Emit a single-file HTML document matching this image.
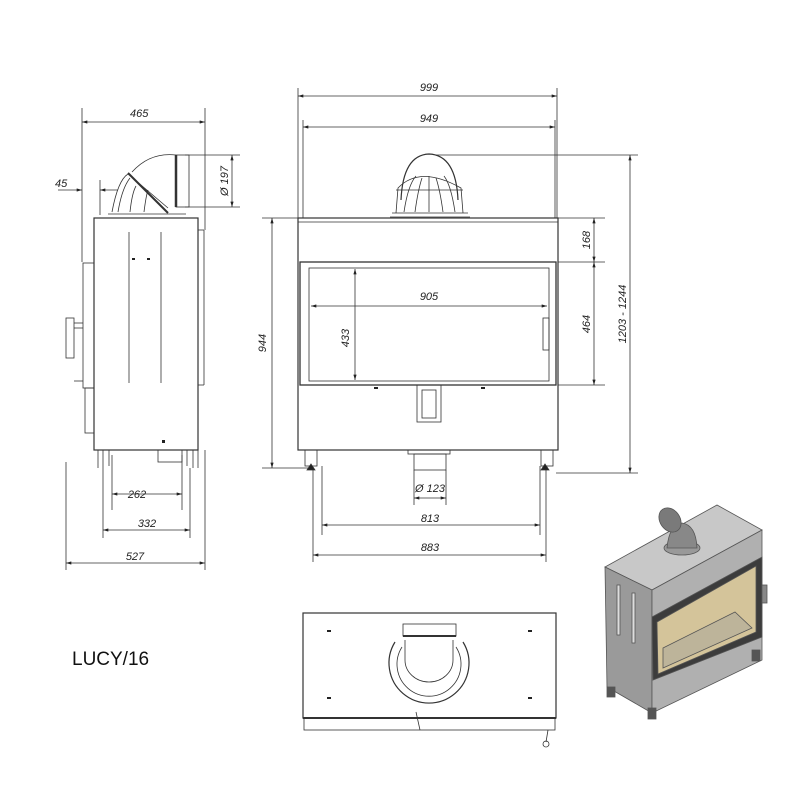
<!DOCTYPE html>
<html><head><meta charset="utf-8"><style>
html,body{margin:0;padding:0;background:#fff}
svg{display:block}
text{font-family:"Liberation Sans",sans-serif;font-size:11px;font-style:italic;fill:#222}
</style></head><body>
<svg width="800" height="800" viewBox="0 0 800 800" xmlns="http://www.w3.org/2000/svg">
<defs>
<marker id="a" viewBox="0 0 10 6" refX="10" refY="3" markerWidth="7" markerHeight="4" orient="auto-start-reverse"><path d="M0,0L10,3L0,6z" fill="#222"/></marker>
</defs>
<g stroke="#333" stroke-width="0.8" fill="none">
<!-- ===== SIDE VIEW ===== -->
<line x1="82" y1="108" x2="82" y2="262"/><line x1="205" y1="108" x2="205" y2="230"/>
<line x1="82" y1="122" x2="205" y2="122" marker-start="url(#a)" marker-end="url(#a)"/>
<line x1="58" y1="190" x2="82" y2="190" marker-end="url(#a)"/><line x1="100" y1="190" x2="118" y2="190" marker-start="url(#a)"/>
<line x1="100" y1="180" x2="100" y2="215"/>
<line x1="185" y1="155" x2="240" y2="155"/><line x1="185" y1="207" x2="240" y2="207"/>
<line x1="232" y1="155" x2="232" y2="207" marker-start="url(#a)" marker-end="url(#a)"/>
<rect x="94" y="218" width="104" height="232" stroke-width="1.2"/>
<line x1="198" y1="230" x2="204" y2="230"/><line x1="204" y1="230" x2="204" y2="385"/><line x1="198" y1="385" x2="204" y2="385"/>
<line x1="198" y1="392" x2="198" y2="445"/>
<line x1="129" y1="232" x2="129" y2="383"/><line x1="161" y1="232" x2="161" y2="383"/>
<rect x="83" y="263" width="11" height="125"/>
<rect x="85" y="388" width="9" height="45"/>
<rect x="66" y="318" width="8" height="40"/><line x1="74" y1="323" x2="83" y2="323"/><line x1="74" y1="328" x2="83" y2="328"/>
<line x1="74" y1="381" x2="83" y2="381"/>
<!-- dome side -->
<path d="M108,214 L186,214"/><path d="M112,212 Q118,180 128,174 L168,208"/>
<path d="M118,212 Q122,188 130,178"/><path d="M130,212 Q132,193 136,186"/><path d="M144,212 Q146,196 148,190"/>
<path d="M128,173 L168,213" stroke-width="2"/>
<path d="M132,172 Q150,152 176,155"/>
<rect x="176" y="155" width="13" height="52"/><line x1="176" y1="155" x2="176" y2="207" stroke-width="2.5"/>
<!-- feet side -->
<line x1="98" y1="450" x2="98" y2="468"/><line x1="103" y1="450" x2="103" y2="468"/><line x1="109" y1="450" x2="109" y2="466"/>
<line x1="187" y1="450" x2="187" y2="466"/><line x1="193" y1="450" x2="193" y2="468"/><line x1="198" y1="450" x2="198" y2="468"/>
<rect x="158" y="450" width="24" height="12"/>
<line x1="66" y1="462" x2="66" y2="570"/><line x1="205" y1="450" x2="205" y2="570"/>
<line x1="103" y1="468" x2="103" y2="538"/><line x1="190" y1="468" x2="190" y2="538"/>
<line x1="112" y1="455" x2="112" y2="510"/><line x1="182" y1="455" x2="182" y2="510"/>
<line x1="112" y1="494" x2="182" y2="494" marker-start="url(#a)" marker-end="url(#a)"/>
<line x1="103" y1="530" x2="190" y2="530" marker-start="url(#a)" marker-end="url(#a)"/>
<line x1="66" y1="563" x2="205" y2="563" marker-start="url(#a)" marker-end="url(#a)"/>
<!-- ===== FRONT VIEW ===== -->
<line x1="298" y1="88" x2="298" y2="218"/><line x1="557" y1="88" x2="557" y2="218"/>
<line x1="303" y1="120" x2="303" y2="218"/><line x1="555" y1="120" x2="555" y2="218"/>
<line x1="298" y1="96" x2="557" y2="96" marker-start="url(#a)" marker-end="url(#a)"/>
<line x1="303" y1="127" x2="555" y2="127" marker-start="url(#a)" marker-end="url(#a)"/>
<rect x="298" y="218" width="260" height="232" stroke-width="1.2"/>
<line x1="298" y1="222" x2="558" y2="222"/>
<rect x="300" y="262" width="256" height="123" stroke-width="1.3"/>
<rect x="309" y="268" width="240" height="113"/>
<rect x="543" y="318" width="6" height="32"/>
<rect x="417" y="385" width="24" height="37"/><rect x="422" y="390" width="14" height="28"/>
<line x1="262" y1="218" x2="298" y2="218"/><line x1="262" y1="468" x2="310" y2="468"/>
<line x1="272" y1="218" x2="272" y2="468" marker-start="url(#a)" marker-end="url(#a)"/>
<line x1="558" y1="218" x2="605" y2="218"/><line x1="558" y1="262" x2="605" y2="262"/><line x1="558" y1="385" x2="605" y2="385"/>
<line x1="594" y1="218" x2="594" y2="262" marker-start="url(#a)" marker-end="url(#a)"/>
<line x1="594" y1="262" x2="594" y2="385" marker-start="url(#a)" marker-end="url(#a)"/>
<line x1="435" y1="155" x2="638" y2="155"/><line x1="556" y1="473" x2="638" y2="473"/>
<line x1="630" y1="155" x2="630" y2="473" marker-start="url(#a)" marker-end="url(#a)"/>
<line x1="311" y1="306" x2="547" y2="306" marker-start="url(#a)" marker-end="url(#a)"/>
<line x1="355" y1="269" x2="355" y2="380" marker-start="url(#a)" marker-end="url(#a)"/>
<!-- dome front -->
<path d="M392,213 L468,213 M390,217 L470,217"/>
<path d="M401,200 Q403,155 429,154 Q456,155 458,200" stroke-width="1.2"/>
<path d="M396,213 L398,188 Q420,165 461,188 L463,213"/>
<path d="M404,212 Q408,185 416,176"/><path d="M415,212 Q418,190 422,178"/><path d="M429,212 L429,176"/><path d="M443,212 Q440,190 436,178"/><path d="M455,212 Q451,185 444,176"/>
<line x1="396" y1="190" x2="463" y2="190"/>
<!-- feet front -->
<rect x="305" y="450" width="12" height="16"/><rect x="541" y="450" width="12" height="16"/>
<path d="M307,470 L315,470 L311,464z M541,470 L549,470 L545,464z" fill="#222"/>
<rect x="408" y="450" width="42" height="4"/><rect x="414" y="454" width="32" height="16"/>
<line x1="414" y1="470" x2="414" y2="505"/><line x1="446" y1="470" x2="446" y2="505"/>
<line x1="414" y1="498" x2="446" y2="498" marker-start="url(#a)" marker-end="url(#a)"/>
<line x1="322" y1="466" x2="322" y2="535"/><line x1="540" y1="466" x2="540" y2="535"/>
<line x1="313" y1="470" x2="313" y2="562"/><line x1="546" y1="470" x2="546" y2="562"/>
<line x1="322" y1="525" x2="540" y2="525" marker-start="url(#a)" marker-end="url(#a)"/>
<line x1="313" y1="555" x2="546" y2="555" marker-start="url(#a)" marker-end="url(#a)"/>
<!-- ===== TOP VIEW ===== -->
<rect x="303" y="613" width="253" height="105" stroke-width="1.2"/>
<rect x="304" y="718" width="251" height="12"/>
<line x1="303" y1="718" x2="556" y2="718" stroke-width="2"/>
<rect x="403" y="624" width="53" height="12"/><line x1="403" y1="636" x2="456" y2="636" stroke-width="2"/>
<path d="M395,642 A40,40 0 1,0 463,642" stroke-width="1.2"/>
<path d="M402,647 A32,32 0 1,0 456,647"/>
<path d="M405,640 L405,660 A24,22 0 0,0 453,660 L453,640"/>
<path d="M416,712 L420,730 M548,730 L546,742"/>
<circle cx="546" cy="744" r="3"/>
</g>
<g fill="#222">
<rect x="132" y="258" width="3" height="2"/><rect x="147" y="258" width="3" height="2"/><rect x="162" y="440" width="3" height="3"/>
<rect x="374" y="387" width="4" height="2"/><rect x="481" y="387" width="4" height="2"/>
<rect x="327" y="630" width="4" height="2"/><rect x="327" y="697" width="4" height="2"/><rect x="528" y="630" width="4" height="2"/><rect x="528" y="697" width="4" height="2"/>
</g>
<!-- labels -->
<text x="130" y="117">465</text>
<text x="55" y="187">45</text>
<text x="228" y="181" transform="rotate(-90 228 181)" text-anchor="middle">Ø 197</text>
<text x="137" y="498" text-anchor="middle">262</text>
<text x="147" y="527" text-anchor="middle">332</text>
<text x="135" y="560" text-anchor="middle">527</text>
<text x="429" y="91" text-anchor="middle">999</text>
<text x="429" y="122" text-anchor="middle">949</text>
<text x="429" y="300" text-anchor="middle">905</text>
<text x="349" y="338" transform="rotate(-90 349 338)" text-anchor="middle">433</text>
<text x="266" y="343" transform="rotate(-90 266 343)" text-anchor="middle">944</text>
<text x="590" y="240" transform="rotate(-90 590 240)" text-anchor="middle">168</text>
<text x="590" y="324" transform="rotate(-90 590 324)" text-anchor="middle">464</text>
<text x="626" y="314" transform="rotate(-90 626 314)" text-anchor="middle">1203 - 1244</text>
<text x="430" y="492" text-anchor="middle">Ø 123</text>
<text x="430" y="522" text-anchor="middle">813</text>
<text x="430" y="551" text-anchor="middle">883</text>
<text x="72" y="665" style="font-style:normal;font-size:19px;fill:#111">LUCY/16</text>
<!-- ===== 3D RENDER ===== -->
<g stroke="#555" stroke-width="0.8">
<polygon points="605,567 652,590 762,530 717,505" fill="#c8c8c8"/>
<polygon points="605,567 652,590 652,713 607,687" fill="#9a9a9a"/>
<polygon points="652,590 762,530 762,660 652,713" fill="#b0b0b0"/>
<polygon points="652,617 762,557 762,637 653,680" fill="#3c3c3c"/>
<polygon points="657,622 756,566 756,632 658,674" fill="#d4c49a"/>
<polygon points="663,648 735,612 752,628 663,668" fill="#bdb49a"/>
<rect x="617" y="585" width="3" height="50" fill="#ddd"/><rect x="632" y="593" width="3" height="50" fill="#ddd"/>
<rect x="607" y="687" width="8" height="10" fill="#555"/><rect x="648" y="708" width="8" height="11" fill="#555"/>
<rect x="752" y="650" width="8" height="11" fill="#555"/>
<rect x="762" y="585" width="5" height="18" fill="#888"/>
<ellipse cx="682" cy="548" rx="18" ry="7" fill="#999"/>
<path d="M667,548 Q669,525 682,523 Q696,525 697,548z" fill="#888"/>
<ellipse cx="670" cy="520" rx="10" ry="13" fill="#7a7a7a" transform="rotate(-35 670 520)"/>
</g>
</svg>
</body></html>
